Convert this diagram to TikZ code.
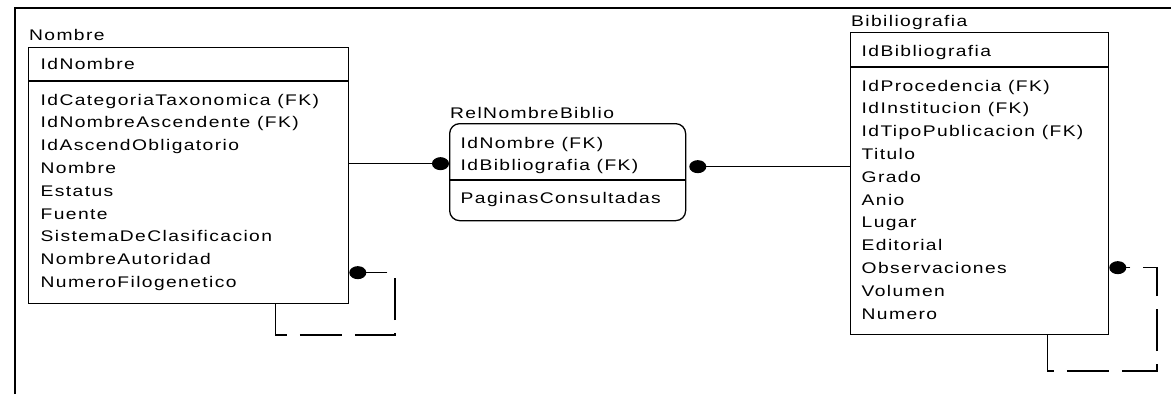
\documentclass[tikz,border=0pt]{standalone}
\usepackage{fontspec}
\setmainfont{Liberation Sans}[FakeStretch=1.25,LetterSpace=9]
\usepackage{tikz}
\usetikzlibrary{arrows.meta}

\tikzset{
  tabla/.style={draw, line width=1.3pt, inner sep=0pt, anchor=north west},
  campo/.style={inner sep=0pt, anchor=base west, align=left, font=\fontsize{15.4}{22.8}\selectfont},
  enlace/.style={line width=1.3pt},
  punto/.style={-{Ellipse[length=17pt,width=13pt]}},
  discont/.style={dash pattern=on 42pt off 13pt},
}

\begin{document}
\begin{tikzpicture}[x=1pt,y=-1pt]
	\useasboundingbox (0,0) rectangle (1171,394);
	\draw[line width=2.5pt] (15,394) -- (15,8) -- (1171,8);

	% Nombre (base = ultima linea)
	\node[tabla, minimum width=320pt, minimum height=256pt] (nombre) at (28,47) {};
	\draw[enlace] ([yshift=-34pt]nombre.north west) -- ([yshift=-34pt]nombre.north east);
	\node[campo] (nombreTit) at (29,40) {Nombre};
	\node[campo] (nombreId) at (40.5,69.5) {IdNombre};
	\node[campo] (nombreAtr) at (40.5,287.4) {IdCategoriaTaxonomica (FK)\\IdNombreAscendente (FK)\\IdAscendObligatorio\\Nombre\\Estatus\\Fuente\\SistemaDeClasificacion\\NombreAutoridad\\NumeroFilogenetico};

	% RelNombreBiblio
	\node[tabla, rounded corners=10pt, minimum width=236pt, minimum height=97pt] (rel) at (449,123) {};
	\draw[enlace] ([yshift=-57pt]rel.north west) -- ([yshift=-57pt]rel.north east);
	\node[campo] (relTit) at (450,118) {RelNombreBiblio};
	\node[campo] (relId) at (460.5,170.8) {IdNombre (FK)\\IdBibliografia (FK)};
	\node[campo] (relAtr) at (460.5,203) {PaginasConsultadas};

	% Bibiliografia
	\node[tabla, minimum width=258pt, minimum height=302pt] (bib) at (850,32) {};
	\draw[enlace] ([yshift=-35pt]bib.north west) -- ([yshift=-35pt]bib.north east);
	\node[campo] (bibTit) at (851,26.5) {Bibiliografia};
	\node[campo] (bibId) at (861.5,56) {IdBibliografia};
	\node[campo] (bibAtr) at (861.5,319) {IdProcedencia (FK)\\IdInstitucion (FK)\\IdTipoPublicacion (FK)\\Titulo\\Grado\\Anio\\Lugar\\Editorial\\Observaciones\\Volumen\\Numero};

	% relaciones
	\draw[enlace, punto] ([yshift=12pt]nombre.east) -- ([yshift=8.5pt]rel.west);
	\draw[enlace, {Ellipse[length=17pt,width=13pt]}-, shorten <=3pt] ([yshift=5.5pt]rel.east) -- ([yshift=17pt]bib.west);

	\coordinate (nombreEsq) at (395,335);
	\draw[enlace, discont, punto] ([xshift=87pt]nombre.south) |- (nombreEsq) |- ([yshift=-97pt]nombre.east);
	\coordinate (bibEsq) at (1157,371);
	\draw[enlace, discont, punto] ([xshift=68pt]bib.south) |- (bibEsq) |- ([yshift=-84pt]bib.east);
\end{tikzpicture}
\end{document}
